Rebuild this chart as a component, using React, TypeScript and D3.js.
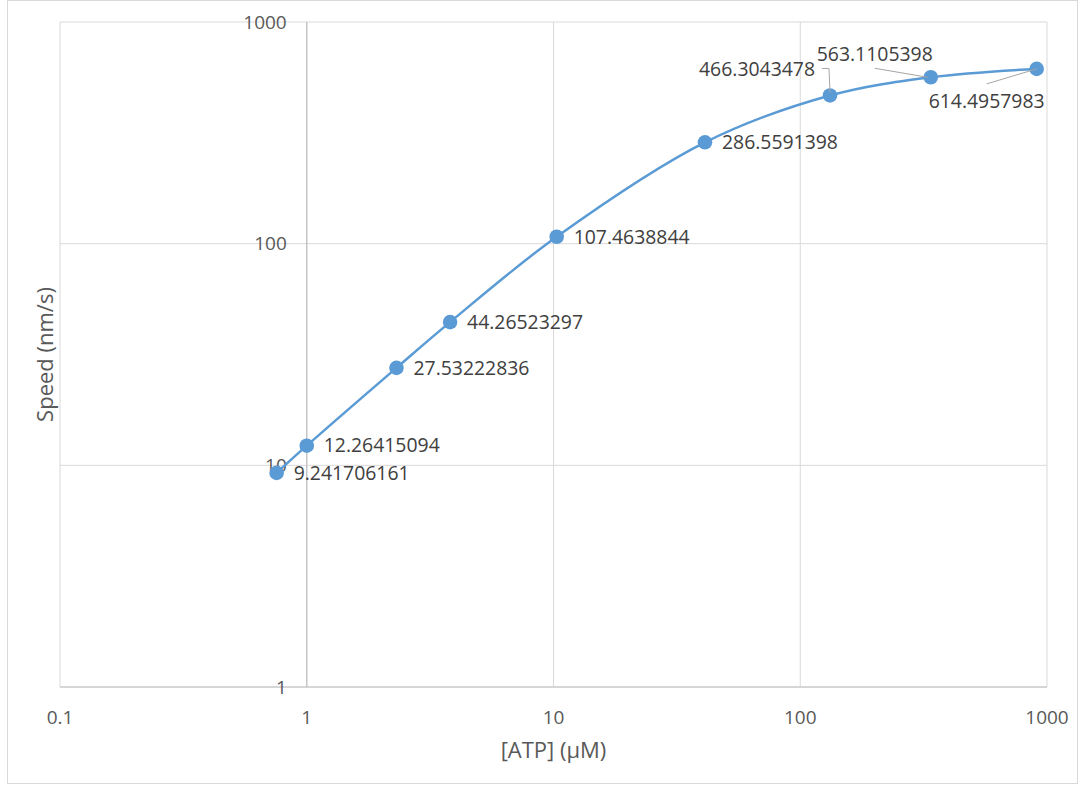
import React from "react";
import * as d3 from "d3";

const atpConc = [0.755, 1, 2.31, 3.81, 10.3, 41.1, 132, 338, 908];
const speedValues = [
  9.241706161, 12.26415094, 27.53222836, 44.26523297, 107.4638844,
  286.5591398, 466.3043478, 563.1105398, 614.4957983,
];
const pointLabels = [
  "9.241706161", "12.26415094", "27.53222836", "44.26523297", "107.4638844",
  "286.5591398", "466.3043478", "563.1105398", "614.4957983",
];
const xTicks = [0.1, 1, 10, 100, 1000];
const yTicks = [1, 10, 100, 1000];
const xTitle = "[ATP] (µM)";
const yTitle = "Speed (nm/s)";

// label placement (px offsets from the marker) for the labels with leader lines
const customPlacement: Record<number, { dx: number; dy: number; anchor: string; leader: [number, number][] }> = {
  6: { dx: -15, dy: -26, anchor: "end", leader: [[0, -3], [-1, -27], [-8, -27]] },
  7: { dx: -56, dy: -23.5, anchor: "middle", leader: [[-3, 0], [-56, -9]] },
  8: { dx: -108, dy: 32, anchor: "start", leader: [[0, 0], [-50, 15]] },
};

const W = 1083;
const H = 785;
const L = 60, R = 1047, T = 22, B = 687;
const FONT = "'Open Sans', sans-serif";

export default function App() {
  const x = d3.scaleLog().domain([0.1, 1000]).range([L, R]);
  const y = d3.scaleLog().domain([1, 1000]).range([B, T]);
  const pts: [number, number][] = atpConc.map((a, i) => [x(a), y(speedValues[i])]);
  const line = d3.line().curve(d3.curveCatmullRom.alpha(0.5))(pts) || "";
  const axisX = x(1);
  const axisY = y(1);

  return (
    <svg width={W} height={H} style={{ position: "absolute", left: 0, top: 0, background: "#fff" }}
      fontFamily={FONT}>
      <rect x={7.5} y={0.5} width={1070} height={783} fill="#fff" stroke="#D9D9D9" />
      {xTicks.map((t) => (
        <line key={"gx" + t} x1={x(t)} x2={x(t)} y1={T} y2={B} stroke="#D9D9D9" strokeWidth={1} />
      ))}
      {yTicks.map((t) => (
        <line key={"gy" + t} x1={L} x2={R} y1={y(t)} y2={y(t)} stroke="#D9D9D9" strokeWidth={1} />
      ))}
      <line x1={axisX} x2={axisX} y1={T} y2={B} stroke="#BFBFBF" strokeWidth={1.2} />
      <line x1={L} x2={R} y1={axisY} y2={axisY} stroke="#BFBFBF" strokeWidth={1.2} />
      {xTicks.map((t) => (
        <text key={"tx" + t} x={x(t)} y={717} dy="0.35em" textAnchor="middle" fontSize={19} fill="#595959">
          {String(t)}
        </text>
      ))}
      {yTicks.map((t) => (
        <text key={"ty" + t} x={axisX - 20} y={y(t)} dy="0.35em" textAnchor="end" fontSize={19} fill="#595959">
          {String(t)}
        </text>
      ))}
      <text x={(L + R) / 2} y={750} dy="0.35em" textAnchor="middle" fontSize={22} fill="#595959">{xTitle}</text>
      <text transform={`translate(45,${(T + B) / 2}) rotate(-90)`} dy="0.35em" textAnchor="middle" fontSize={22} fill="#595959">{yTitle}</text>
      <path d={line} fill="none" stroke="#5B9BD5" strokeWidth={2.5} strokeLinecap="round" />
      {pts.map(([px, py], i) => (
        <circle key={"p" + i} cx={px} cy={py} r={7.3} fill="#5B9BD5" />
      ))}
      {Object.entries(customPlacement).map(([k, p]) => {
        const [px, py] = pts[+k];
        return (
          <polyline key={"ll" + k} points={p.leader.map(([a, b]) => `${px + a},${py + b}`).join(" ")}
            fill="none" stroke="#A6A6A6" strokeWidth={1} />
        );
      })}
      {pts.map(([px, py], i) => {
        const c = customPlacement[i];
        return (
          <text key={"l" + i} x={px + (c ? c.dx : 17)} y={py + (c ? c.dy : 0)} dy="0.35em"
            textAnchor={c ? c.anchor : "start"} fontSize={19.4} fill="#404040">
            {pointLabels[i]}
          </text>
        );
      })}
    </svg>
  );
}
